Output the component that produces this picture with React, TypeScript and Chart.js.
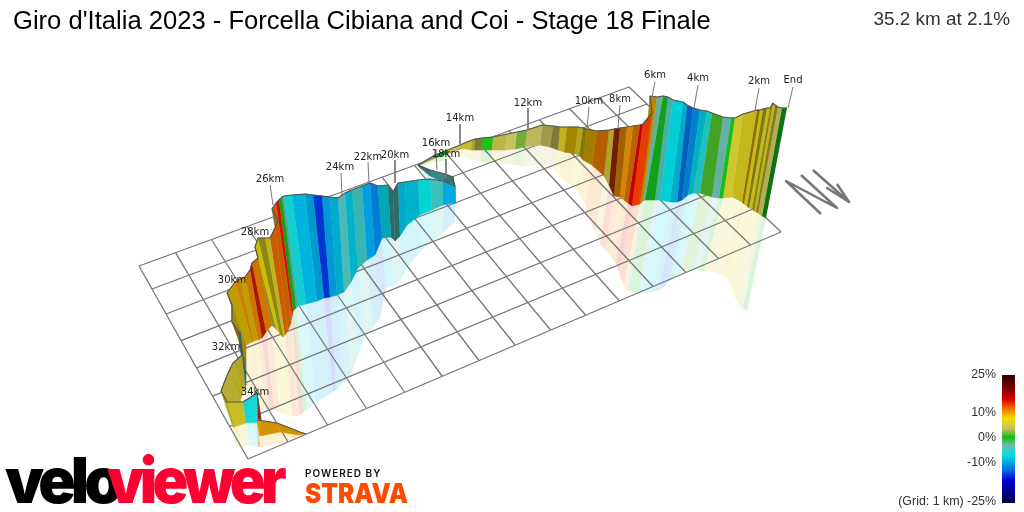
import React, { useEffect, useRef } from 'react';
import { Chart, registerables } from 'chart.js';

Chart.register(...registerables);

// Route, walked from the finish back to the start, in picture space
const topX = [
  787, 782, 778, 775, 773, 770, 767, 763, 760, 757,
  743, 735, 731, 723, 712, 707, 700, 693, 687, 683,
  673, 668, 663, 657, 650, 652, 643, 640, 633, 627,
  620, 614, 609, 597, 587, 583, 578, 567, 560, 553,
  542, 527, 517, 507, 493, 482, 475, 472, 460, 448,
  435, 418, 430, 445, 453, 454, 455, 443, 430, 418,
  405, 398, 393, 388, 378, 370, 362, 352, 345, 338,
  330, 322, 313, 305, 292, 284, 282, 279, 276, 272,
  278, 275, 270, 265, 258, 255, 258, 252, 250, 245,
  240, 235, 227, 232, 232, 240, 240, 242, 233, 228,
  221, 227, 243, 257, 261, 258, 277, 300, 306,
];
const topY = [
  108, 108, 107, 105, 103, 108, 108, 109, 110, 110,
  114, 118, 118, 117, 113, 111, 110, 108, 105, 102,
  100, 97, 96, 97, 96, 113, 124, 125, 126, 127,
  128, 129, 130, 131, 129, 128, 127, 127, 127, 126,
  125, 130, 132, 134, 137, 138, 139, 140, 145, 150,
  155, 165, 170, 174, 177, 183, 186, 181, 179, 180,
  182, 183, 192, 185, 186, 183, 186, 190, 193, 198,
  197, 196, 195, 194, 195, 196, 197, 200, 203, 209,
  220, 228, 238, 238, 238, 247, 258, 263, 270, 277,
  279, 282, 293, 305, 322, 333, 347, 355, 363, 373,
  391, 402, 402, 393, 420, 420, 423, 432, 434,
];
const baseX = [
  766, 762, 758, 756, 754, 752, 749, 747, 744, 742,
  732, 723, 719, 712, 700, 693, 688, 682, 677, 670,
  660, 655, 645, 643, 641, 640, 632, 628, 624, 620,
  614, 609, 604, 592, 583, 579, 575, 564, 558, 550,
  540, 525, 515, 505, 492, 481, 474, 471, 460, 448,
  435, 418, 430, 443, 453, 454, 455, 443, 432, 420,
  407, 400, 395, 391, 382, 375, 367, 358, 351, 344,
  337, 330, 324, 317, 306, 298, 296, 293, 292, 291,
  291, 288, 285, 283, 280, 276, 272, 266, 262, 258,
  254, 252, 246, 246, 246, 246, 246, 245, 243, 240,
  233, 234, 246, 258, 257, 260, 280, 298, 306,
];
const baseY = [
  218, 216, 213, 212, 211, 209, 208, 206, 204, 202,
  197, 198, 198, 197, 193, 193, 195, 200, 202, 202,
  200, 200, 200, 201, 203, 204, 206, 203, 200, 197,
  196, 185, 176, 165, 160, 155, 154, 152, 150, 147,
  145, 147, 149, 150, 150, 150, 150, 150, 148, 153,
  158, 166, 176, 182, 184, 185, 203, 205, 210, 215,
  225, 236, 241, 237, 238, 255, 260, 268, 282, 292,
  295, 297, 298, 301, 304, 306, 308, 311, 316, 320,
  323, 330, 335, 337, 334, 329, 325, 332, 338, 340,
  341, 342, 345, 350, 360, 372, 385, 388, 392, 402,
  427, 427, 423, 422, 421, 436, 432, 435, 434,
];
const floorX = [
  747, 743, 739, 736, 733, 731, 730, 728, 727, 725,
  712, 704, 700, 693, 682, 675, 670, 664, 659, 652,
  643, 638, 629, 627, 625, 624, 619, 616, 612, 609,
  605, 600, 595, 585, 578, 574, 571, 561, 555, 548,
  538, 524, 514, 504, 491, 481, 474, 471, 460, 448,
  435, 418, 430, 443, 453, 454, 455, 443, 433, 421,
  409, 402, 397, 394, 386, 380, 373, 365, 358, 351,
  344, 336, 333, 326, 316, 309, 307, 303, 300, 298,
  297, 295, 292, 290, 287, 283, 279, 274, 270, 266,
  262, 260, 254, 252, 250, 249, 248, 247, 245, 242,
  236, 239, 249, 260, 258, 262, 280, 300, 306,
];
const floorY = [
  312, 308, 304, 300, 294, 287, 282, 280, 279, 277,
  272, 271, 271, 270, 270, 277, 281, 287, 290, 292,
  293, 293, 291, 290, 288, 286, 272, 264, 258, 254,
  250, 243, 233, 205, 192, 188, 185, 178, 170, 165,
  165, 166, 165, 164, 163, 162, 160, 159, 155, 160,
  162, 167, 184, 190, 190, 190, 222, 233, 242, 251,
  265, 277, 284, 286, 288, 318, 327, 335, 355, 375,
  382, 390, 392, 396, 402, 409, 410, 412, 415, 416,
  416, 416, 416, 417, 415, 414, 412, 410, 410, 410,
  410, 410, 410, 410, 410, 410, 410, 410, 410, 415,
  446, 447, 445, 447, 447, 447, 443, 437, 434,
];

// Gradient (%) of each stretch between two route points, and how lit its face is
const grades = [
  0.5, 4, 6.5, 6.5, 7, 6.5, 7, 7.5, 9.5, 6.5,
  6, 0.5, -2.5, 1.8, -5, -7, -10.5, -12, -8, -6.5,
  -3.5, 0.5, -2, 10, 7, 13.5, 15.3, 11.5, 10.5, 11,
  13.5, 5.5, 11.5, 9.5, 7.5, 6.8, 9, 6.5, 4.5, 4,
  4, 2.6, 4, 5, 1, 4.5, 5.5, 6, 4.5, 0.8,
  3, -3, -3.5, -3, -5, 0.5, -9, -4, -6, -7.5,
  -8, -3.5, -3.5, -7, -11, -9.5, -4, -7.5, -3.5, -8,
  -9.5, -14, -9, -8.5, -5.5, -3, 0.8, 15, 12, 5,
  12, 12, 6.5, 7, 8, 6, 11, 14.5, 11, 9,
  10.5, 9, 5, 9, 6, -3, 4, 6, 6, 5.5,
  6, 6.2, -5.5, 15.5, 10, 10, 10, 10,
];
const faceLight = [
  0.6, 0.9, 0.6, 0.85, 0.6, 0.87, 0.55, 0.85, 0.6, 0.87,
  0.95, 1, 0.95, 0.85, 0.9, 0.85, 0.9, 0.85, 0.9, 0.95,
  0.9, 0.83, 0.95, 0.8, 0.65, 1, 0.88, 0.78, 0.88, 0.68,
  0.5, 0.8, 0.75, 0.68, 0.55, 0.78, 0.68, 0.85, 0.62, 0.8,
  0.95, 0.9, 1, 0.9, 1, 0.62, 0.8, 0.9, 1, 0.75,
  0.9, 0.6, 0.7, 0.6, 0.6, 0.7, 1, 0.95, 0.95, 0.9,
  0.9, 0.55, 0.55, 0.8, 0.95, 1, 0.9, 0.9, 0.95, 0.9,
  0.95, 0.95, 0.9, 1, 0.95, 0.85, 0.85, 1, 0.88, 0.6,
  0.85, 0.85, 0.85, 0.62, 0.85, 0.65, 0.85, 0.75, 0.85, 0.8,
  0.85, 0.8, 0.6, 0.7, 0.55, 0.5, 0.6, 0.8, 0.82, 0.85,
  0.8, 0.9, 1, 0.9, 0.88, 0.88, 0.88, 0.88,
];

// Legend colour scale
const scaleGrades = [25, 17.9, 15.3, 11.4, 8, 4, 0.7, -2.3, -6.2, -12, -16, -24.4, -25];
const scaleColours = [
  [42, 0, 0], [160, 0, 0], [224, 0, 0], [240, 128, 0], [240, 224, 0], [200, 192, 96], [16, 192, 16],
  [112, 184, 176], [0, 224, 224], [0, 112, 224], [0, 0, 216], [0, 0, 80], [0, 0, 64],
];
const legendLabels = ['25%', '10%', '0%', '-10%', '(Grid: 1 km) -25%'];
const legendLabelY = [375, 413, 438, 463, 502];

// Distance markers
const kmLabels = ['End', '2km', '4km', '6km', '8km', '10km', '12km', '14km', '16km', '18km', '20km', '22km', '24km', '26km', '28km', '30km', '32km', '34km'];
const kmLabelX = [793, 759, 698, 655, 620, 589, 528, 460, 436, 446, 395, 368, 340, 270, 255, 232, 226, 255];
const kmLabelY = [80, 81, 78, 75, 99, 101, 103, 118, 143, 154, 155, 157, 167, 179, 232, 280, 347, 392];
const leaderTopX = [793, 759, 698, 655, 620, 589, 528, 460, 436, 446, 395, 368, 341, 270];
const leaderTopY = [87, 88, 85, 82, 105, 107, 108, 124, 149, 159, 160, 162, 173, 185];
const leaderEndX = [788, 755, 694, 652, 618, 587, 528, 460, 437, 446, 395, 369, 342, 273];
const leaderEndY = [108, 110, 108, 97, 128, 128, 130, 145, 170, 178, 183, 183, 195, 205];

// Ground grid, one line per km each way
const gridFarX = [139, 175.5, 211.5, 247, 281.5, 315.5, 349, 382, 414.5, 446.5, 478, 509, 539.5, 569.5, 599, 629];
const gridFarY = [266, 252.7, 239.5, 226.5, 214, 201.5, 189.3, 177.2, 165.4, 153.7, 142.2, 130.8, 119.7, 108.7, 98, 87];
const gridNearX = [248, 288, 327.5, 366.5, 404.5, 442, 479, 515, 550.5, 585.5, 619.5, 653, 686, 718.5, 750.5, 781];
const gridNearY = [459, 442, 425, 408.5, 392, 376, 360.5, 345, 330, 315, 301, 286.5, 272.5, 258.5, 245, 232];
const gridLeftX = [139, 152, 166, 181, 196.5, 212.5, 229.5, 248];
const gridLeftY = [266, 289, 314, 340.6, 367.8, 396.2, 426.3, 459];
const gridRightX = [629, 647, 666, 686.5, 708.5, 731.5, 755.5, 781];
const gridRightY = [87, 104, 122, 142, 163, 185, 208, 232];

// North arrow strokes: the N, then the arrow
const northX = [821, 786, 837, 801];
const northY = [214, 181, 208, 175];
const arrowX = [813, 849, 827, 849, 837];
const arrowY = [170, 202, 188, 202, 184];

const colourFor = (grade: number) => {
  let i = 0;
  while (i < scaleGrades.length - 2 && grade < scaleGrades[i + 1]) i++;
  const t = (scaleGrades[i] - grade) / (scaleGrades[i] - scaleGrades[i + 1]);
  return scaleColours[i].map((c, k) => c + (scaleColours[i + 1][k] - c) * t);
};
const rgba = (c: number[], light = 1, alpha = 1) =>
  `rgba(${Math.round(c[0] * light)}, ${Math.round(c[1] * light)}, ${Math.round(c[2] * light)}, ${alpha})`;

const line = (xs: number[], ys: number[]) => xs.map((x, i) => ({ x, y: ys[i] }));

// Closed polygon filled by the line element itself
const shape = (data: { x: number; y: number }[], colour: any, order: number, border = 0) => ({
  data,
  order,
  showLine: true,
  fill: 'shape',
  backgroundColor: colour,
  borderColor: colour,
  borderWidth: border,
  pointRadius: 0,
  tension: 0,
});

const stroke = (data: { x: number; y: number }[], colour: string, width: number, order: number) => ({
  data,
  order,
  showLine: true,
  fill: false,
  borderColor: colour,
  borderWidth: width,
  pointRadius: 0,
  tension: 0,
  borderJoinStyle: 'round' as const,
});

const textPlugin = {
  id: 'chartText',
  afterDraw(chart: any) {
    const { ctx, scales } = chart;
    const put = (text: string, x: number, y: number, font: string, colour: string, align: CanvasTextAlign = 'left', baseline: CanvasTextBaseline = 'alphabetic', maxWidth?: number) => {
      ctx.font = font;
      ctx.fillStyle = colour;
      ctx.textAlign = align;
      ctx.textBaseline = baseline;
      if (maxWidth) ctx.fillText(text, scales.x.getPixelForValue(x), scales.y.getPixelForValue(y), maxWidth);
      else ctx.fillText(text, scales.x.getPixelForValue(x), scales.y.getPixelForValue(y));
    };
    ctx.save();
    put("Giro d'Italia 2023 - Forcella Cibiana and Coi - Stage 18 Finale", 13, 29, '25.6px "Liberation Sans"', '#000');
    put('35.2 km at 2.1%', 1010, 25, '18.9px "Liberation Sans"', '#333', 'right');
    kmLabels.forEach((label, i) => {
      put(label, kmLabelX[i], kmLabelY[i], '10px "DejaVu Sans"', '#222', 'center', 'middle');
    });
    legendLabels.forEach((label, i) => {
      put(label, 996, legendLabelY[i], '12.4px "Liberation Sans"', '#333', 'right', 'middle');
    });
    ctx.letterSpacing = '-5px';
    put('velo', 5, 503, '900 63px Inter', '#000', 'left', 'alphabetic', 113);
    put('viewer', 107, 503, '900 63px Inter', '#ff0033', 'left', 'alphabetic', 175);
    ctx.letterSpacing = '1px';
    put('POWERED BY', 305, 477, '600 10px Inter', '#111');
    ctx.letterSpacing = '0px';
    put('STRAVA', 305, 503, '900 27px Inter', '#fc4c02', 'left', 'alphabetic', 103);
    ctx.restore();
  },
};

const App = () => {
  const canvasRef = useRef<HTMLCanvasElement>(null);

  useEffect(() => {
    if (!canvasRef.current) return;
    const ctx = canvasRef.current.getContext('2d');
    if (!ctx) return;

    const datasets: any[] = [];

    // Pale curtain under the wall
    grades.forEach((grade, i) => {
      const poly = line(
        [baseX[i], baseX[i + 1], floorX[i + 1], floorX[i]],
        [baseY[i], baseY[i + 1], floorY[i + 1], floorY[i]],
      );
      datasets.push(shape(poly, rgba(colourFor(grade), 1, 0.17), 3000 - i));
    });

    gridFarX.forEach((x, i) => {
      datasets.push(stroke(line([x, gridNearX[i]], [gridFarY[i], gridNearY[i]]), '#777', 1.3, 2000));
    });
    gridLeftX.forEach((x, i) => {
      datasets.push(stroke(line([x, gridRightX[i]], [gridLeftY[i], gridRightY[i]]), '#777', 1.3, 2000));
    });

    // The coloured wall, far stretches first
    grades.forEach((grade, i) => {
      const poly = line(
        [topX[i], topX[i + 1], baseX[i + 1], baseX[i]],
        [topY[i], topY[i + 1], baseY[i + 1], baseY[i]],
      );
      datasets.push(shape(poly, rgba(colourFor(grade), faceLight[i]), 1000 - i, 0.6));
    });

    datasets.push(stroke(line(topX, topY), '#555', 1.2, 10));

    leaderTopX.forEach((x, i) => {
      datasets.push(stroke(line([x, leaderEndX[i]], [leaderTopY[i], leaderEndY[i]]), '#777', 1, 5));
    });
    datasets.push(stroke(line(northX, northY), '#777', 2.5, 5));
    datasets.push(stroke(line(arrowX, arrowY), '#777', 2.5, 5));

    // Legend bar
    const bar = ctx.createLinearGradient(0, 375, 0, 503);
    scaleGrades.forEach((g, i) => bar.addColorStop((25 - g) / 50, rgba(scaleColours[i])));
    datasets.push(shape(line([1002, 1015, 1015, 1002], [375, 375, 503, 503]), bar, 1));

    const chart = new Chart(ctx, {
      type: 'scatter',
      data: { datasets },
      options: {
        responsive: false,
        animation: false,
        devicePixelRatio: 1,
        layout: { padding: 0 },
        events: [],
        plugins: { legend: { display: false }, tooltip: { enabled: false } },
        scales: {
          x: { type: 'linear', min: 0, max: 1024, display: false },
          y: { type: 'linear', min: 0, max: 512, reverse: true, display: false },
        },
      },
      plugins: [textPlugin],
    });

    return () => chart.destroy();
  }, []);

  return (
    <div style={{ position: 'fixed', left: 0, top: 0, width: 1024, height: 512, background: '#fff' }}>
      <canvas ref={canvasRef} width={1024} height={512} style={{ display: 'block' }}></canvas>
    </div>
  );
};

export default App;
